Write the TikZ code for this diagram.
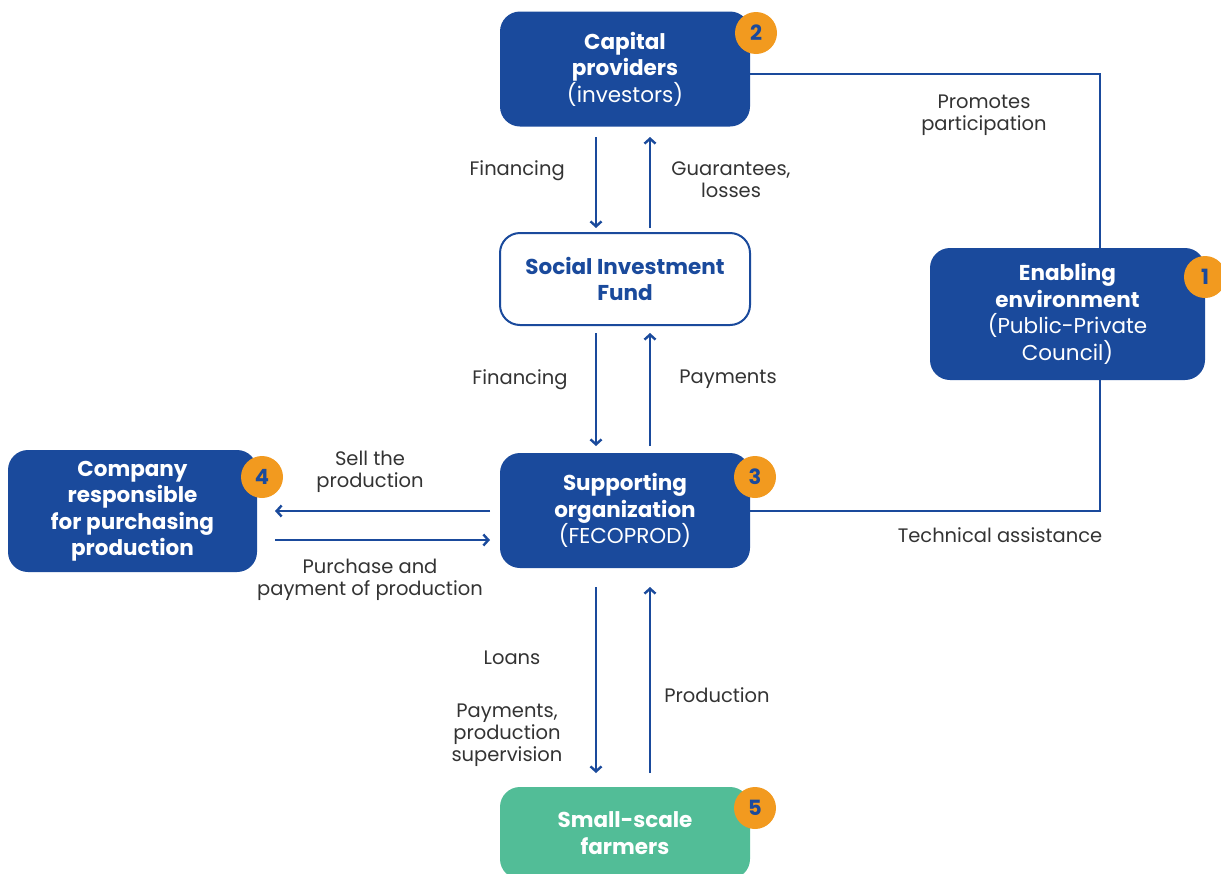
\documentclass[tikz,border=0pt]{standalone}
\usepackage{fontspec}
\setmainfont{Poppins}
\usetikzlibrary{arrows.meta}
\definecolor{fundblue}{HTML}{1A4A9C}
\definecolor{farmgreen}{HTML}{52BD97}
\definecolor{badgeorange}{HTML}{F29A1F}
\definecolor{labelgray}{HTML}{333333}
\begin{document}
\begin{tikzpicture}[
                        x = 1pt,
                        y = -1pt,
                        >={Straight Barb[length=5pt,width=11pt,line width=2.4pt]},
                        semithick
                        ]

                        \tikzstyle{actor}=[
                                rectangle,
                                rounded corners = 20pt,
                                fill = fundblue,
                                text = white,
                                align = center,
                                font = \fontsize{21.5}{26.5}\selectfont\bfseries,
                                minimum width = 250pt,
                                minimum height = 115pt,
                                inner sep = 0pt
                        ]
                        \tikzstyle{badge}=[
                                circle,
                                fill = badgeorange,
                                text = fundblue,
                                font = \fontsize{21}{22}\selectfont\bfseries,
                                minimum size = 42pt,
                                inner sep = 0pt
                        ]
                        \tikzstyle{flow}=[
                                ->,
                                draw = fundblue,
                                line width = 2.5pt
                        ]
                        \tikzstyle{link}=[
                                draw = fundblue,
                                line width = 2.5pt
                        ]
                        \tikzstyle{tag}=[
                                text = labelgray,
                                align = center,
                                font = \fontsize{19.5}{22}\selectfont,
                                inner sep = 0pt
                        ]

                        \useasboundingbox (0,0) rectangle (1221,873);

                        % actors
                        \node[actor] (capital) at (625,69) {Capital\\providers\\\mdseries(investors)};
                        \node[actor, fill = white, draw = fundblue, line width = 2pt,
                              text = fundblue, minimum height = 92pt] (fund) at (625,279) {Social Investment\\Fund};
                        \node[actor, minimum width = 275pt, minimum height = 132pt] (enabling) at (1067.5,314) {Enabling\\environment\\\mdseries(Public-Private\\\mdseries Council)};
                        \node[actor] (support) at (625,510.5) {Supporting\\organization\\\mdseries(FECOPROD)};
                        \node[actor, minimum width = 249pt, minimum height = 122pt] (company) at (132.5,511) {Company\\responsible\\for purchasing\\production};
                        \node[actor, fill = farmgreen, minimum height = 92pt] (farmers) at (625,833) {Small-scale\\farmers};

                        % badges
                        \node[badge] (b2) at (756,33) {2};
                        \node[badge] (b1) at (1205,277) {1};
                        \node[badge] (b3) at (755,477) {3};
                        \node[badge] (b4) at (262,477) {4};
                        \node[badge] (b5) at (755,808) {5};

                        % anchor points for the arrows
                        \coordinate (c1) at (596,137);
                        \coordinate (c2) at (596,228);
                        \coordinate (c3) at (650,228);
                        \coordinate (c4) at (650,137);
                        \coordinate (f1) at (596,333);
                        \coordinate (f2) at (596,446);
                        \coordinate (f3) at (650,446);
                        \coordinate (f4) at (650,333);
                        \coordinate (s1) at (490,511);
                        \coordinate (s2) at (275,511);
                        \coordinate (s3) at (275,540);
                        \coordinate (s4) at (490,540);
                        \coordinate (p1) at (596,587);
                        \coordinate (p2) at (596,773);
                        \coordinate (p3) at (650,773);
                        \coordinate (p4) at (650,587);
                        \coordinate (e1) at (1100,74);
                        \coordinate (e2) at (1100,511);

                        \draw[flow] (c1) -- (c2);
                        \draw[flow] (c3) -- (c4);
                        \draw[flow] (f1) -- (f2);
                        \draw[flow] (f3) -- (f4);
                        \draw[flow] (s1) -- (s2);
                        \draw[flow] (s3) -- (s4);
                        \draw[flow] (p1) -- (p2);
                        \draw[flow] (p3) -- (p4);
                        \draw[link] (capital.east |- e1) -- (e1) -- (enabling.north -| e1);
                        \draw[link] (enabling.south -| e2) -- (e2) -- (support.east |- e2);

                        % labels
                        \node[tag, anchor = east] (t1) at (565,171) {Financing};
                        \node[tag] (t2) at (731,180) {Guarantees,\\losses};
                        \node[tag] (t3) at (984,115) {Promotes\\participation};
                        \node[tag] (t4) at (520,380) {Financing};
                        \node[tag] (t5) at (728,379) {Payments};
                        \node[tag] (t6) at (370,472) {Sell the\\production};
                        \node[tag] (t7) at (370,580) {Purchase and\\payment of production};
                        \node[tag] (t8) at (1000,535) {Technical assistance};
                        \node[tag] (t9) at (512,658) {Loans};
                        \node[tag] (t10) at (507,735) {Payments,\\production\\supervision};
                        \node[tag] (t11) at (717,695) {Production};
                \end{tikzpicture}
\end{document}
